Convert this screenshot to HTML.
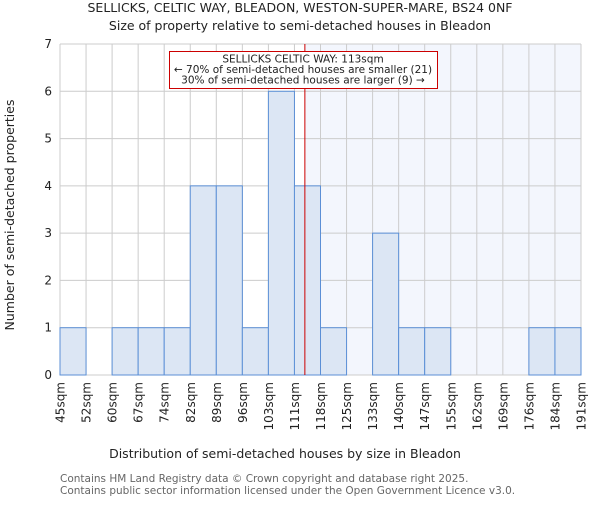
<!DOCTYPE html>
<html><head><meta charset="utf-8"><style>
body{margin:0;background:#fff}
svg text{font-family:"DejaVu Sans","Liberation Sans",sans-serif;fill:#222}
</style></head><body>
<svg id="c" width="600" height="500" xmlns="http://www.w3.org/2000/svg">
<text x="300" y="12" font-size="12.5" text-anchor="middle">SELLICKS, CELTIC WAY, BLEADON, WESTON-SUPER-MARE, BS24 0NF</text>
<text x="300" y="30" font-size="12.5" text-anchor="middle">Size of property relative to semi-detached houses in Bleadon</text>
<text x="285" y="458" font-size="12.5" text-anchor="middle">Distribution of semi-detached houses by size in Bleadon</text>
<text transform="translate(14,215) rotate(-90)" font-size="12.5" text-anchor="middle">Number of semi-detached properties</text>
<text x="60" y="482" font-size="10.5" style="fill:#666">Contains HM Land Registry data © Crown copyright and database right 2025.</text>
<text x="60" y="494" font-size="10.5" style="fill:#666">Contains public sector information licensed under the Open Government Licence v3.0.</text>
<g id="g"></g>
</svg>
<script>
const edges=["45sqm","52sqm","60sqm","67sqm","74sqm","82sqm","89sqm","96sqm","103sqm","111sqm","118sqm","125sqm","133sqm","140sqm","147sqm","155sqm","162sqm","169sqm","176sqm","184sqm","191sqm"];
const counts=[1,0,1,1,1,4,4,1,6,4,1,0,3,1,1,0,0,0,1,1];
const yTicks=[0,1,2,3,4,5,6,7];
const markerIndex=9.4;
const X0=60,X1=581,Y0=375,Y1=44,YMAX=7;
const bw=(X1-X0)/counts.length;
const xs=i=>X0+i*bw;
const ys=v=>Y0-(Y0-Y1)*v/YMAX;
const g=document.getElementById('g');
const NS='http://www.w3.org/2000/svg';
function mk(t,a){const e=document.createElementNS(NS,t);for(const k in a)e.setAttribute(k,a[k]);g.appendChild(e);return e;}
const mx=xs(markerIndex);
let e=mk('rect',{x:mx,y:Y1,width:X1-mx,height:Y0-Y1,fill:'#f3f6fd'});


yTicks.forEach(v=>{
 let l=mk('line',{x1:X0,x2:X1,y1:ys(v),y2:ys(v),stroke:'#cccccc','stroke-width':1});
 
 
 let t=mk('text',{x:X0-8,y:ys(v)+4,'font-size':12,'text-anchor':'end'});
 t.textContent=v;
 
 
});
edges.forEach((s,i)=>{
 let l=mk('line',{x1:xs(i),x2:xs(i),y1:Y1,y2:Y0,stroke:'#cccccc','stroke-width':1});
 
 
 let t=mk('text',{transform:`translate(${xs(i)+4.5},382) rotate(-90)`,'font-size':12,'text-anchor':'end'});
 t.textContent=s;
 
 
});
counts.forEach((v,i)=>{
 if(v<=0)return;
 let r=mk('rect',{x:xs(i),y:ys(v),width:bw,height:Y0-ys(v),fill:'#dce6f4',stroke:'#5b8fd6','stroke-width':1});
 
 
});
e=mk('line',{x1:mx,x2:mx,y1:Y1,y2:Y0,stroke:'#cc0000','stroke-width':1});


e=mk('rect',{x:169.5,y:51.5,width:268,height:37,fill:'#fff',stroke:'#cc0000','stroke-width':1});


[["SELLICKS CELTIC WAY: 113sqm",62.5],["← 70% of semi-detached houses are smaller (21)",73],["30% of semi-detached houses are larger (9) →",83.5]].forEach(([s,y])=>{
 let t=mk('text',{x:303,y:y,'font-size':10.5,'text-anchor':'middle'});
 t.textContent=s;
 
 
});
</script>
</body></html>
